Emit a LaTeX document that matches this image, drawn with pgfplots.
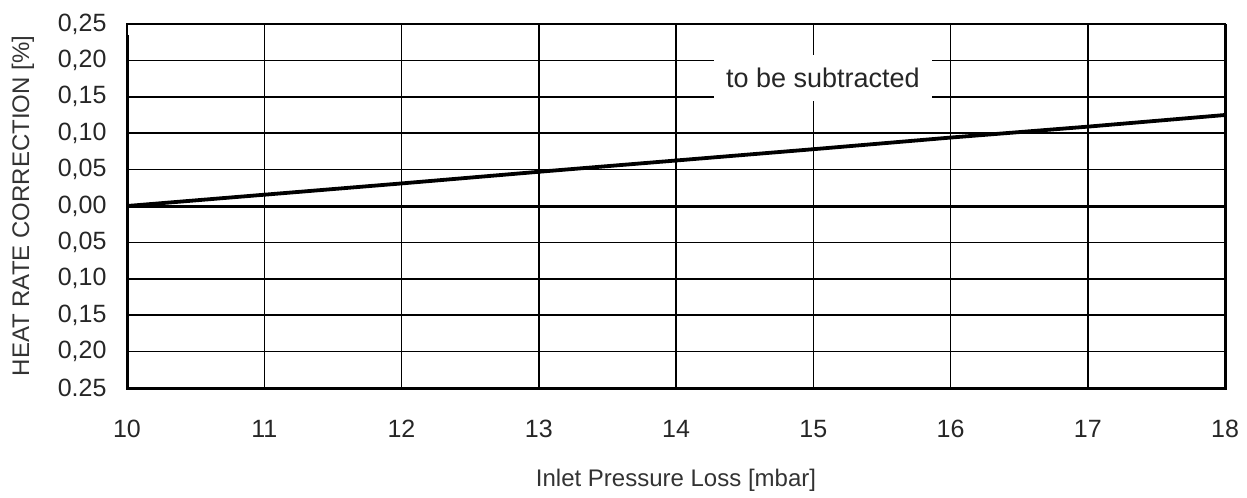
\documentclass[border=0pt]{standalone}
\usepackage{fontspec}
\setmainfont{Liberation Sans}
\usepackage{pgfplots}
\pgfplotsset{compat=1.18}
\begin{document}
\begin{tikzpicture}
\begin{axis}[
  scale only axis, width=1098bp, height=364bp,
  xmin=10, xmax=18, ymin=-0.25, ymax=0.25,
  clip=false,
  xtick={10,11,12,13,14,15,16,17,18},
  xticklabels={10,11,12,13,14,15,16,17,18},
  ytick={-0.25,-0.20,-0.15,-0.10,-0.05,0,0.05,0.10,0.15,0.20,0.25},
  yticklabels={0.25,{0,20},{0,15},{0,10},{0,05},{0,00},{0,05},{0,10},{0,15},{0,20},{0,25}},
  /pgf/number format/assume math mode=true,
  major tick length=0pt,
  grid=major,
  major grid style={black, line width=1.5bp},
  axis line style={black, line width=1.5bp},
  tick label style={font=\fontsize{25bp}{28bp}\selectfont, text=black!85},
  xticklabel style={yshift=-29bp},
  yticklabel style={xshift=-17bp},
  xlabel={Inlet Pressure Loss [mbar]},
  ylabel={HEAT RATE CORRECTION [\%]},
  label style={font=\fontsize{24bp}{28bp}\selectfont, text=black!80},
  xlabel style={at={(axis description cs:0.5,0)}, anchor=center, yshift=-92bp},
  ylabel style={at={(axis description cs:-0.0947,0.5)}, anchor=center},
]
\addplot[black, line width=3bp] coordinates {(10,0) (18,0)};
\addplot[black, line width=3.8bp] coordinates {(10,0) (11,0.0155) (12,0.031) (13,0.047) (14,0.0625) (15,0.078) (16,0.094) (17,0.109) (18,0.125)};
\draw[black, line width=3bp] (rel axis cs:0,0.97) -- (rel axis cs:0,0) -- (rel axis cs:1,0) -- (rel axis cs:1,1);
\node[fill=white, inner xsep=12bp, inner ysep=0bp, minimum height=46bp, font=\fontsize{27bp}{30bp}\selectfont, text=black!85] at (axis cs:15.07,0.176) {to be subtracted};
\end{axis}
\pgfresetboundingbox
\path ([shift={(-127bp,-109bp)}]current axis.south west) rectangle ([shift={(22bp,24bp)}]current axis.north east);
\end{tikzpicture}
\end{document}
